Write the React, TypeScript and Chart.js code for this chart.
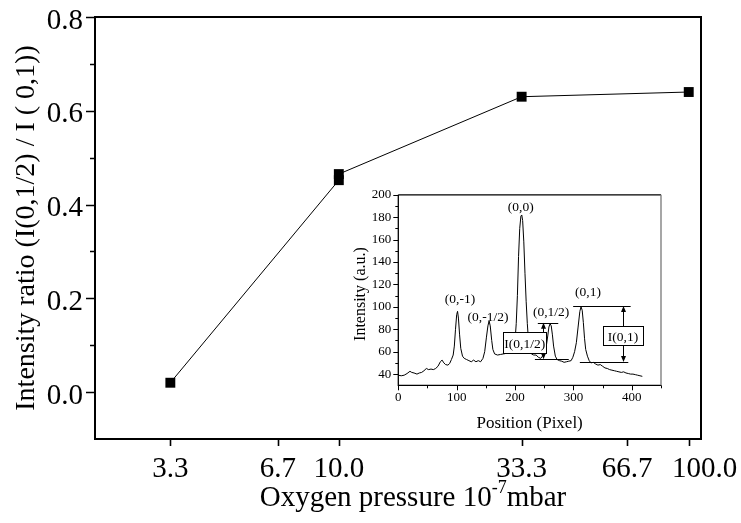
import React, { useEffect, useRef } from 'react';
import { Chart, registerables } from 'chart.js';

Chart.register(...registerables);

// ---------- main chart data ----------
const pressures = [3.3, 10, 10, 33.3, 100];
const ratios = [0.02, 0.452, 0.465, 0.63, 0.64];
const xTickValues = [3.3, 6.7, 10, 33.3, 66.7, 100];
const xTickLabels = ['3.3', '6.7', '10.0', '33.3', '66.7', '100.0'];
const yTickValues = [0, 0.2, 0.4, 0.6, 0.8];
const yTickLabels = ['0.0', '0.2', '0.4', '0.6', '0.8'];
const yMinorTicks = [0.1, 0.3, 0.5, 0.7];

// ---------- inset spectrum data ----------
const positions = [
  0, 5, 10, 15, 20, 23, 27, 32, 36, 40, 44, 48, 52, 56, 60, 64, 68, 72, 75, 78,
  81, 85, 88, 91, 94, 96, 98, 100, 101.5, 103, 105, 107, 110, 113, 117, 121, 125, 129, 133, 137,
  141, 145, 148, 151, 153.5, 155.5, 157.5, 160, 162, 165, 170, 175, 180, 185, 190, 195, 198, 200, 202, 204,
  206, 208, 210, 211.5, 213, 215, 217, 219, 221, 223, 225, 228, 232, 236, 240, 244, 247, 250, 253, 256,
  258, 260, 262, 264, 266, 269, 272, 276, 280, 284, 288, 292, 296, 299, 302, 305, 308, 311, 313, 315,
  317, 319, 321, 324, 327, 330, 334, 338, 342, 346, 350, 354, 358, 362, 366, 370, 374, 378, 382, 386,
  390, 394, 398, 402, 406, 410, 414, 418,
];
const intensities = [
  39, 38.5, 39, 40.5, 42.5, 41.5, 41, 40, 41, 41.5, 43, 45, 44, 44.5, 44, 45, 47, 51, 52.5, 50,
  48.5, 48, 49.5, 53, 57, 65, 80, 93, 96, 90, 75, 63, 56, 54, 53, 52, 51, 52.5, 51, 52,
  51, 54, 60, 73, 83, 87.5, 83, 70, 62, 58, 57, 57.5, 58, 58.5, 60, 61, 63, 70, 85, 110,
  145, 170, 181, 182, 177, 158, 130, 105, 85, 70, 62, 58, 57, 57, 55, 54, 56, 58, 63, 74,
  82, 85, 83, 75, 65, 56, 53, 52, 51.5, 50.5, 51, 51.5, 52, 55, 60, 68, 82, 96, 100, 97,
  86, 72, 62, 56, 52, 50, 50.5, 49, 48, 48.5, 47, 45.5, 45, 44, 43.5, 43, 42.5, 42, 41.5, 42,
  41, 40.5, 40, 40, 39.5, 39, 38.5, 38,
];
const insetXTicks = [0, 100, 200, 300, 400];
const insetXMinor = [50, 150, 250, 350, 450];
const insetYTicks = [40, 60, 80, 100, 120, 140, 160, 180, 200];
const insetYMinor = [50, 70, 90, 110, 130, 150, 170, 190];

// peak labels (text, position in pixel units, intensity)
const peakLabelText = ['(0,-1)', '(0,-1/2)', '(0,0)', '(0,1/2)', '(0,1)'];
const peakLabelPos = [105.7, 153.7, 209.8, 261.7, 325];
const peakLabelInt = [107, 90.5, 189, 95, 112.6];

const SERIF = '"Liberation Serif", "Times New Roman", serif';

const mainPlugin = {
  id: 'mainDecor',
  afterDraw(chart: any) {
    const { ctx, chartArea: a, scales } = chart;
    const xs = scales.x;
    const ys = scales.y;
    ctx.save();
    ctx.strokeStyle = '#000';
    ctx.lineWidth = 2;
    ctx.strokeRect(a.left, a.top, a.right - a.left, a.bottom - a.top);
    ctx.lineWidth = 1.6;
    ctx.beginPath();
    yTickValues.forEach((v) => {
      const y = Math.round(ys.getPixelForValue(v)) + 0.5;
      ctx.moveTo(a.left - 9, y);
      ctx.lineTo(a.left, y);
    });
    yMinorTicks.forEach((v) => {
      const y = Math.round(ys.getPixelForValue(v)) + 0.5;
      ctx.moveTo(a.left - 5, y);
      ctx.lineTo(a.left, y);
    });
    xTickValues.forEach((v) => {
      const x = Math.round(xs.getPixelForValue(v)) + 0.5;
      ctx.moveTo(x, a.bottom);
      ctx.lineTo(x, a.bottom + 7);
    });
    ctx.stroke();

    // tick labels
    ctx.fillStyle = '#000';
    ctx.font = `29px ${SERIF}`;
    ctx.textBaseline = 'alphabetic';
    ctx.textAlign = 'right';
    yTickValues.forEach((v, i) => {
      ctx.fillText(yTickLabels[i], a.left - 12, ys.getPixelForValue(v) + 11.5);
    });
    ctx.textAlign = 'center';
    xTickValues.forEach((v, i) => {
      const shift = i === xTickValues.length - 1 ? 16 : 0;
      ctx.fillText(xTickLabels[i], xs.getPixelForValue(v) + shift, a.bottom + 38);
    });

    // y title
    ctx.save();
    ctx.font = `28px ${SERIF}`;
    ctx.textAlign = 'center';
    ctx.textBaseline = 'middle';
    ctx.translate(27, 228);
    ctx.rotate(-Math.PI / 2);
    ctx.fillText('Intensity ratio (I(0,1/2) / I ( 0,1))', 0, 0);
    ctx.restore();

    // x title with superscript
    ctx.textBaseline = 'alphabetic';
    ctx.textAlign = 'left';
    const big = `29px ${SERIF}`;
    const small = `18px ${SERIF}`;
    const p1 = 'Oxygen pressure 10';
    const p2 = '-7';
    const p3 = 'mbar';
    ctx.font = big;
    const w1 = ctx.measureText(p1).width;
    const w3 = ctx.measureText(p3).width;
    ctx.font = small;
    const w2 = ctx.measureText(p2).width;
    const total = w1 + w2 + w3;
    let x = 413 - total / 2;
    const base = 506;
    ctx.font = big;
    ctx.fillText(p1, x, base);
    x += w1;
    ctx.font = small;
    ctx.fillText(p2, x, base - 13);
    x += w2;
    ctx.font = big;
    ctx.fillText(p3, x, base);
    ctx.restore();
  },
};

function arrowHead(ctx: any, x: number, y: number, dir: number) {
  ctx.beginPath();
  ctx.moveTo(x, y);
  ctx.lineTo(x - 2.5, y + dir * 6);
  ctx.lineTo(x + 2.5, y + dir * 6);
  ctx.closePath();
  ctx.fill();
}

const insetPlugin = {
  id: 'insetDecor',
  afterDraw(chart: any) {
    const { ctx, chartArea: a, scales } = chart;
    const xs = scales.x;
    const ys = scales.y;
    const px = (v: number) => xs.getPixelForValue(v);
    const py = (v: number) => ys.getPixelForValue(v);
    ctx.save();
    // frame
    ctx.lineWidth = 1.3;
    ctx.strokeStyle = '#000';
    ctx.beginPath();
    ctx.moveTo(a.left, a.top);
    ctx.lineTo(a.right, a.top);
    ctx.moveTo(a.left, a.top);
    ctx.lineTo(a.left, a.bottom);
    ctx.lineTo(a.right, a.bottom);
    ctx.stroke();
    ctx.strokeStyle = '#777';
    ctx.beginPath();
    ctx.moveTo(a.right, a.top);
    ctx.lineTo(a.right, a.bottom);
    ctx.stroke();
    // ticks
    ctx.strokeStyle = '#000';
    ctx.lineWidth = 1;
    ctx.beginPath();
    insetYTicks.forEach((v) => {
      const y = Math.round(py(v)) + 0.5;
      ctx.moveTo(a.left - 5, y);
      ctx.lineTo(a.left, y);
    });
    insetYMinor.forEach((v) => {
      const y = Math.round(py(v)) + 0.5;
      ctx.moveTo(a.left - 3, y);
      ctx.lineTo(a.left, y);
    });
    insetXTicks.forEach((v) => {
      const x = Math.round(px(v)) + 0.5;
      ctx.moveTo(x, a.bottom);
      ctx.lineTo(x, a.bottom + 5);
    });
    insetXMinor.forEach((v) => {
      const x = Math.round(px(v)) + 0.5;
      ctx.moveTo(x, a.bottom);
      ctx.lineTo(x, a.bottom + 3);
    });
    ctx.stroke();

    // titles
    ctx.fillStyle = '#000';
    ctx.textAlign = 'center';
    ctx.textBaseline = 'middle';
    ctx.font = `17px ${SERIF}`;
    ctx.fillText('Position (Pixel)', (a.left + a.right) / 2, a.bottom + 38);
    ctx.save();
    ctx.font = `16px ${SERIF}`;
    ctx.translate(a.left - 38, (a.top + a.bottom) / 2 + 4);
    ctx.rotate(-Math.PI / 2);
    ctx.fillText('Intensity (a.u.)', 0, 0);
    ctx.restore();

    // peak labels
    ctx.font = `13.5px ${SERIF}`;
    peakLabelText.forEach((t, i) => {
      ctx.fillText(t, px(peakLabelPos[i]), py(peakLabelInt[i]));
    });

    // level lines
    ctx.lineWidth = 1;
    ctx.beginPath();
    const hline = (v1: number, v2: number, iv: number) => {
      const y = Math.round(py(iv)) + 0.5;
      ctx.moveTo(px(v1), y);
      ctx.lineTo(px(v2), y);
    };
    hline(239, 274, 85.8);
    hline(234, 292, 53.2);
    hline(299.5, 398, 100.8);
    hline(311, 394, 50.8);
    ctx.stroke();

    // arrows
    const arrow = (v: number, i1: number, i2: number) => {
      const x = Math.round(px(v)) + 0.5;
      const y1 = py(i1);
      const y2 = py(i2);
      ctx.beginPath();
      ctx.moveTo(x, y1 + 3);
      ctx.lineTo(x, y2 - 3);
      ctx.stroke();
      arrowHead(ctx, x, y1, 1);
      arrowHead(ctx, x, y2, -1);
    };
    arrow(248, 85.8, 53.2);
    arrow(384.6, 100.8, 50.8);

    // boxes
    const box = (v: number, iv: number, w: number, h: number, text: string) => {
      const cx = px(v);
      const cy = py(iv);
      ctx.fillStyle = '#fff';
      ctx.fillRect(cx - w / 2, cy - h / 2, w, h);
      ctx.strokeStyle = '#000';
      ctx.lineWidth = 1;
      ctx.strokeRect(Math.round(cx - w / 2) + 0.5, Math.round(cy - h / 2) + 0.5, w, h);
      ctx.fillStyle = '#000';
      ctx.fillText(text, cx, cy + 1);
    };
    box(216.6, 67.75, 43, 21, 'I(0,1/2)');
    box(385, 74, 40, 19, 'I(0,1)');
    ctx.restore();
  },
};

function MainChart() {
  const ref = useRef<HTMLCanvasElement>(null);
  useEffect(() => {
    const chart = new Chart(ref.current as HTMLCanvasElement, {
      type: 'line',
      data: {
        datasets: [
          {
            data: pressures.map((x, i) => ({ x, y: ratios[i] })),
            borderColor: '#000',
            borderWidth: 1,
            pointStyle: 'rect',
            pointRadius: 7,
            pointBackgroundColor: '#000',
            pointBorderColor: '#000',
            pointBorderWidth: 0,
            tension: 0,
            fill: false,
            clip: false,
          },
        ],
      },
      options: {
        responsive: false,
        animation: false,
        devicePixelRatio: 1,
        layout: { padding: { top: 17, right: 40, left: 0, bottom: 0 } },
        plugins: { legend: { display: false }, tooltip: { enabled: false } },
        scales: {
          x: {
            type: 'logarithmic',
            min: 2.01,
            max: 108.4,
            afterBuildTicks: (s: any) => {
              s.ticks = xTickValues.map((v) => ({ value: v }));
            },
            afterFit: (s: any) => {
              s.height = 84;
            },
            ticks: { display: false },
            grid: { display: false, drawTicks: false },
            border: { display: false },
          },
          y: {
            min: -0.1,
            max: 0.8,
            afterBuildTicks: (s: any) => {
              s.ticks = yTickValues.map((v) => ({ value: v }));
            },
            afterFit: (s: any) => {
              s.width = 95;
            },
            ticks: { display: false },
            grid: { display: false, drawTicks: false },
            border: { display: false },
          },
        },
      } as any,
      plugins: [mainPlugin],
    });
    return () => chart.destroy();
  }, []);
  return (
    <canvas
      ref={ref}
      width={741}
      height={523}
      style={{ position: 'absolute', left: 0, top: 0, width: 741, height: 523 }}
    />
  );
}

function InsetChart() {
  const ref = useRef<HTMLCanvasElement>(null);
  useEffect(() => {
    const chart = new Chart(ref.current as HTMLCanvasElement, {
      type: 'line',
      data: {
        datasets: [
          {
            data: positions.map((x, i) => ({ x, y: intensities[i] })),
            borderColor: '#000',
            borderWidth: 1,
            pointRadius: 0,
            tension: 0,
            fill: false,
          },
        ],
      },
      options: {
        responsive: false,
        animation: false,
        devicePixelRatio: 1,
        layout: { padding: { top: 13, right: 9, left: 0, bottom: 0 } },
        plugins: { legend: { display: false }, tooltip: { enabled: false } },
        scales: {
          x: {
            type: 'linear',
            min: 0,
            max: 450,
            afterBuildTicks: (s: any) => {
              s.ticks = insetXTicks.map((v) => ({ value: v }));
            },
            afterFit: (s: any) => {
              s.height = 49.7;
            },
            ticks: {
              font: { family: SERIF, size: 13 },
              color: '#000',
              padding: 4,
              maxRotation: 0,
              autoSkip: false,
            },
            grid: { display: false, drawTicks: false },
            border: { display: false },
          },
          y: {
            min: 30,
            max: 200,
            afterBuildTicks: (s: any) => {
              s.ticks = insetYTicks.map((v) => ({ value: v }));
            },
            afterFit: (s: any) => {
              s.width = 58.3;
            },
            ticks: {
              font: { family: SERIF, size: 13 },
              color: '#000',
              padding: 7,
            },
            grid: { display: false, drawTicks: false },
            border: { display: false },
          },
        },
      } as any,
      plugins: [insetPlugin],
    });
    return () => chart.destroy();
  }, []);
  return (
    <canvas
      ref={ref}
      width={330}
      height={255}
      style={{ position: 'absolute', left: 340, top: 180, width: 330, height: 255 }}
    />
  );
}

export default function App() {
  return (
    <div
      style={{
        position: 'fixed',
        left: 0,
        top: 0,
        width: 741,
        height: 523,
        background: '#fff',
        overflow: 'hidden',
      }}
    >
      <MainChart />
      <InsetChart />
    </div>
  );
}
